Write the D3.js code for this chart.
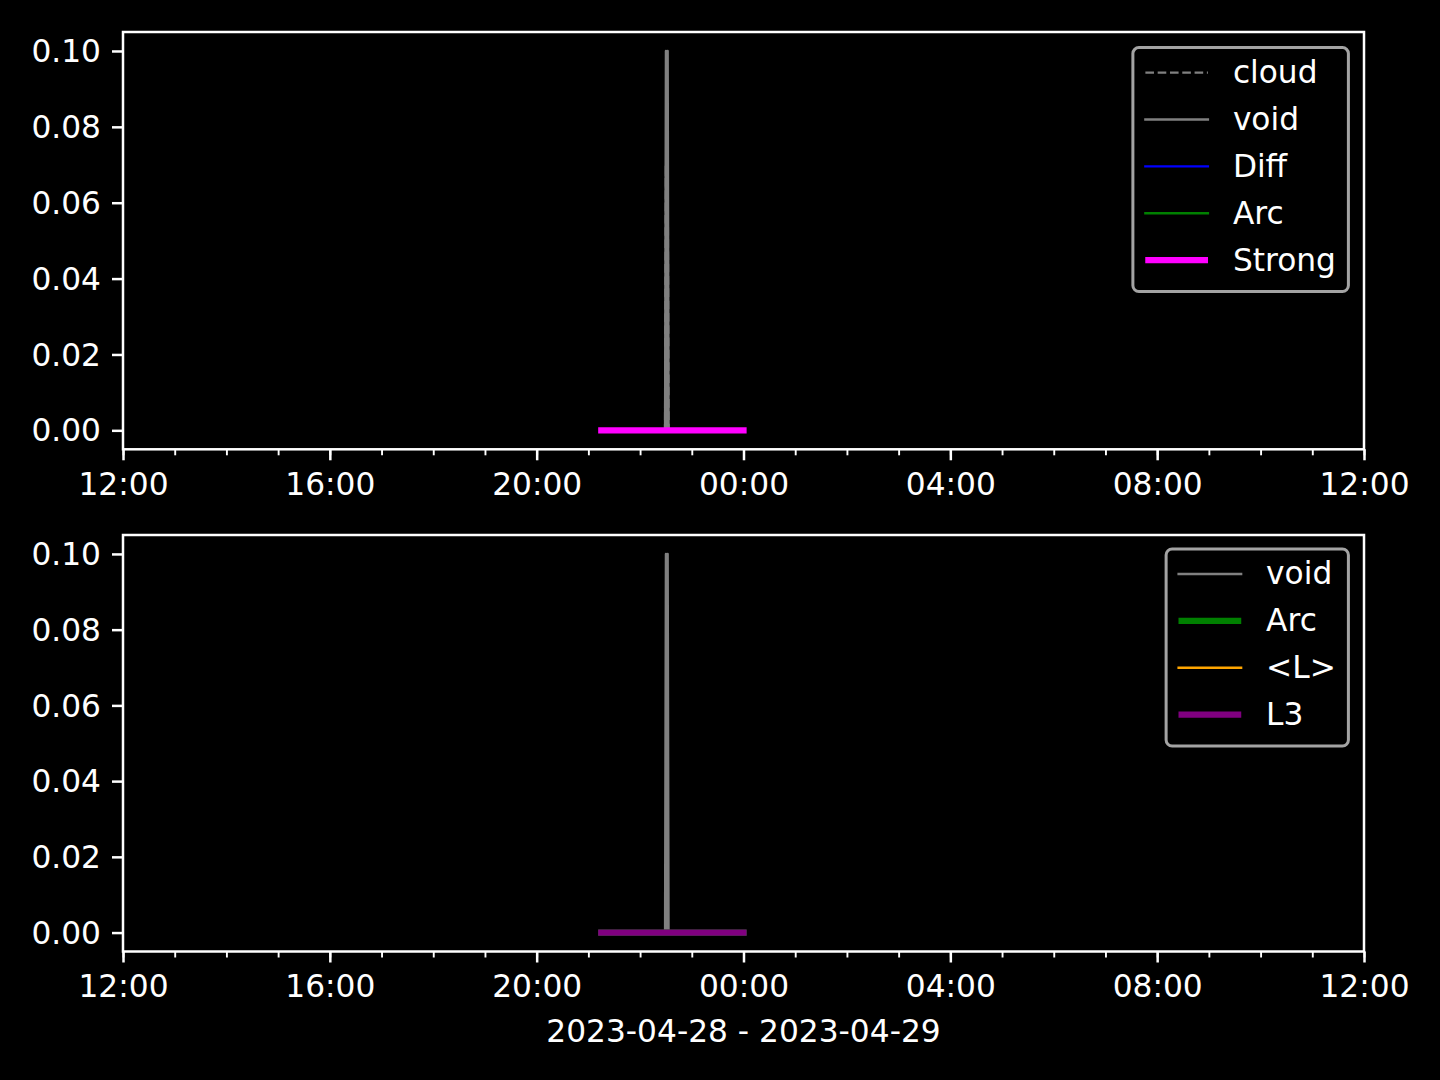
<!DOCTYPE html>
<html>
<head>
<meta charset="utf-8">
<script src="https://cdn.jsdelivr.net/npm/d3@7"></script>
<style>
  html, body { margin: 0; padding: 0; background: #000; }
  svg { display: block; }
  text { font-family: "DejaVu Sans", sans-serif; fill: #fff; }
</style>
</head>
<body>
<svg id="chart" width="1440" height="1080"></svg>
<script>
// ---------- data ----------
const times = ["2023-04-28T21:15:00Z", "2023-04-28T22:29:00Z", "2023-04-28T22:30:00Z",
               "2023-04-28T22:31:00Z", "2023-04-28T22:32:00Z", "2023-04-28T22:33:00Z",
               "2023-04-29T00:00:00Z"];
const cloudValues  = [0, 0, 0.07, 0, 0.07, 0, 0];
const voidValues   = [0, 0, 0.1, 0, 0.1, 0, 0];
const diffValues   = [0, 0, 0, 0, 0, 0, 0];
const arcValues    = [0, 0, 0, 0, 0, 0, 0];
const strongValues = [0, 0, 0, 0, 0, 0, 0];
const void2Values  = [0, 0, 0.1, 0, 0.1, 0, 0];
const arc2Values   = [0, 0, 0, 0, 0, 0, 0];
const meanLValues  = [0, 0, 0, 0, 0, 0, 0];
const l3Values     = [0, 0, 0, 0, 0, 0, 0];
const xDomain = ["2023-04-28T12:00:00Z", "2023-04-29T12:00:00Z"];
const yTicks = [0, 0.02, 0.04, 0.06, 0.08, 0.10];
const yDomain = [-0.005, 0.105];
const xLabel = "2023-04-28 - 2023-04-29";

const topSeries = [
  {name: "cloud",  values: cloudValues,  color: "#808080", width: 2.4, dash: "8.6,3.7"},
  {name: "void",   values: voidValues,   color: "#808080", width: 2.4},
  {name: "Diff",   values: diffValues,   color: "#0000ff", width: 2.4},
  {name: "Arc",    values: arcValues,    color: "#008000", width: 2.4},
  {name: "Strong", values: strongValues, color: "#ff00ff", width: 6.25}
];
const bottomSeries = [
  {name: "void", values: void2Values, color: "#808080", width: 2.4},
  {name: "Arc",  values: arc2Values,  color: "#008000", width: 6.25},
  {name: "<L>",  values: meanLValues, color: "#ffa500", width: 2.4},
  {name: "L3",   values: l3Values,    color: "#800080", width: 6.25}
];

// ---------- layout ----------
const svg = d3.select("#chart");
const FS = 31.25;
const left = 123, right = 1364;
const panels = [
  {top: 32,  bottom: 449.3, series: topSeries, legendTop: 47.6},
  {top: 535, bottom: 951.5, series: bottomSeries, legendTop: 549}
];
const parsed = times.map(t => new Date(t));
const x = d3.scaleUtc().domain(xDomain.map(d => new Date(d))).range([left, right]);

panels.forEach((p, pi) => {
  const y = d3.scaleLinear().domain(yDomain).range([p.bottom, p.top]);
  const g = svg.append("g");
  const clipId = "clip" + pi;
  svg.append("clipPath").attr("id", clipId).append("rect")
    .attr("x", left).attr("y", p.top).attr("width", right - left).attr("height", p.bottom - p.top);

  // lines
  const line = d3.line().x((d, i) => x(parsed[i])).y(d => y(d));
  const lg = g.append("g").attr("clip-path", `url(#${clipId})`);
  p.series.forEach(s => {
    lg.append("path")
      .attr("d", line(s.values))
      .attr("fill", "none")
      .attr("stroke", s.color)
      .attr("stroke-width", s.width)
      .attr("stroke-linejoin", "round")
      .attr("stroke-linecap", s.dash ? "butt" : "square")
      .attr("stroke-dasharray", s.dash || null);
  });

  // x axis (major + minor)
  const xMinor = g.append("g").attr("transform", `translate(0,${p.bottom})`)
    .call(d3.axisBottom(x).ticks(d3.utcHour.every(1)).tickSize(6).tickFormat(""));
  xMinor.select(".domain").remove();
  xMinor.selectAll("line").attr("stroke", "#fff").attr("stroke-width", 1.9);
  const xMajor = g.append("g").attr("transform", `translate(0,${p.bottom})`)
    .call(d3.axisBottom(x).ticks(d3.utcHour.every(4)).tickSize(11).tickPadding(11)
      .tickFormat(d3.utcFormat("%H:%M")));
  xMajor.select(".domain").remove();
  xMajor.selectAll("line").attr("stroke", "#fff").attr("stroke-width", 2.5);
  xMajor.selectAll("text").attr("font-size", FS).attr("font-family", "DejaVu Sans")
    .attr("fill", "#fff").attr("dy", "0.76em");

  // y axis
  const yAx = g.append("g").attr("transform", `translate(${left},0)`)
    .call(d3.axisLeft(y).tickValues(yTicks).tickSize(11).tickPadding(11).tickFormat(d3.format(".2f")));
  yAx.select(".domain").remove();
  yAx.selectAll("line").attr("stroke", "#fff").attr("stroke-width", 2.5);
  yAx.selectAll("text").attr("font-size", FS).attr("font-family", "DejaVu Sans")
    .attr("fill", "#fff").attr("dy", "0.34em");

  // spines
  g.append("rect").attr("x", left).attr("y", p.top)
    .attr("width", right - left).attr("height", p.bottom - p.top)
    .attr("fill", "none").attr("stroke", "#fff").attr("stroke-width", 2.5);

  // legend
  const pad = 12.5, handleLen = 62.5, textPad = 25, rowStep = 46.9;
  const leg = g.append("g");
  const frame = leg.append("rect");
  const texts = [];
  p.series.forEach((s, i) => {
    const t = leg.append("text").attr("font-size", FS).attr("dy", "0.33em").text(s.name);
    texts.push(t);
  });
  const maxW = d3.max(texts, t => t.node().getComputedTextLength());
  const legRight = right - 15.6;
  const legLeft = legRight - (pad + handleLen + textPad + maxW + pad);
  const legH = p.series.length * rowStep - 15.6 + 2 * pad;
  frame.attr("x", legLeft).attr("y", p.legendTop).attr("width", legRight - legLeft).attr("height", legH)
    .attr("rx", 6).attr("ry", 6).attr("fill", "#000").attr("fill-opacity", 0.8)
    .attr("stroke", "#a3a3a3").attr("stroke-width", 3);
  p.series.forEach((s, i) => {
    const cy = p.legendTop + 25 + i * rowStep;
    leg.append("line")
      .attr("x1", legLeft + pad + (s.width > 3 ? 3 : 0)).attr("x2", legLeft + pad + handleLen - (s.width > 3 ? 3 : 0))
      .attr("y1", cy).attr("y2", cy)
      .attr("stroke", s.color).attr("stroke-width", s.width)
      .attr("stroke-linecap", s.dash ? "butt" : "square")
      .attr("stroke-dasharray", s.dash || null);
    texts[i].attr("x", legLeft + pad + handleLen + textPad).attr("y", cy);
  });
});

svg.append("text")
  .attr("x", (left + right) / 2).attr("y", 1042)
  .attr("text-anchor", "middle").attr("font-size", FS)
  .text(xLabel);
</script>
</body>
</html>
